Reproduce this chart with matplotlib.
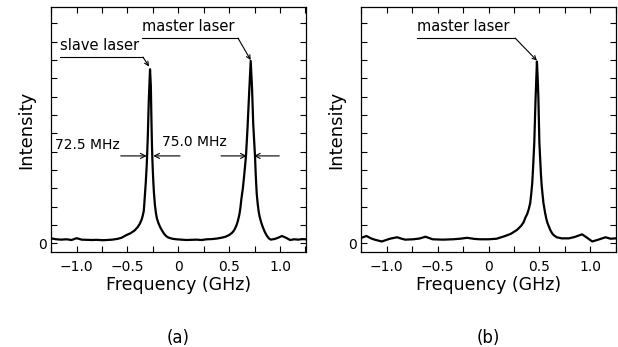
import numpy as np
import matplotlib
matplotlib.use("Agg")
import matplotlib.pyplot as plt
from matplotlib.ticker import MultipleLocator, FixedLocator

# spectrum (a): slave + master laser, frequency in GHz, intensity in tick units
freq_a = [-1.25, -1.2, -1.15, -1.1, -1.05, -1.0, -0.95, -0.9, -0.85, -0.8,
          -0.75, -0.7, -0.65, -0.6, -0.56, -0.51, -0.47, -0.43, -0.40, -0.38,
          -0.36, -0.35, -0.34, -0.335, -0.33, -0.32, -0.31, -0.30, -0.29, -0.278,
          -0.27, -0.265, -0.26, -0.255, -0.25, -0.245, -0.24, -0.23, -0.22, -0.21,
          -0.195, -0.18, -0.16, -0.14, -0.12, -0.10, -0.06, -0.02, 0.03, 0.08,
          0.13, 0.18, 0.23, 0.28, 0.33, 0.38, 0.42, 0.46, 0.50, 0.53,
          0.55, 0.57, 0.585, 0.60, 0.61, 0.62, 0.635, 0.646, 0.658, 0.666,
          0.68, 0.695, 0.712, 0.725, 0.737, 0.746, 0.754, 0.762, 0.771, 0.78,
          0.79, 0.80, 0.815, 0.83, 0.85, 0.87, 0.89, 0.91, 0.95, 0.98,
          1.0, 1.02, 1.06, 1.10, 1.14, 1.18, 1.22, 1.25]
int_a = [0.27, 0.22, 0.20, 0.22, 0.18, 0.28, 0.20, 0.19, 0.18, 0.19,
         0.17, 0.18, 0.20, 0.24, 0.30, 0.45, 0.55, 0.70, 0.88, 1.05,
         1.3, 1.5, 1.75, 2.1, 2.5, 3.3, 4.3, 5.8, 7.8, 9.5,
         8.6, 7.0, 5.6, 4.6, 3.9, 3.3, 2.8, 2.1, 1.65, 1.35,
         1.1, 0.9, 0.7, 0.52, 0.40, 0.32, 0.25, 0.22, 0.20, 0.18,
         0.19, 0.20, 0.18, 0.22, 0.23, 0.26, 0.30, 0.35, 0.45, 0.58,
         0.72, 0.95, 1.2, 1.55, 1.9, 2.4, 3.0, 3.6, 4.3, 4.8,
         6.2, 8.0, 9.95, 8.5, 6.5, 5.6, 4.8, 3.7, 2.73, 2.2,
         1.75, 1.45, 1.15, 0.9, 0.63, 0.42, 0.27, 0.20, 0.24, 0.30,
         0.35, 0.40, 0.30, 0.18, 0.22, 0.20, 0.23, 0.22]

# spectrum (b): master laser only
freq_b = [-1.25, -1.2, -1.16, -1.12, -1.05, -0.97, -0.9, -0.86, -0.82, -0.74,
          -0.68, -0.62, -0.55, -0.45, -0.35, -0.28, -0.21, -0.14, -0.08, 0.0,
          0.08, 0.164, 0.22, 0.28, 0.32, 0.345, 0.36, 0.38, 0.395, 0.41,
          0.42, 0.43, 0.437, 0.45, 0.462, 0.476, 0.485, 0.49, 0.50, 0.508,
          0.515, 0.522, 0.53, 0.54, 0.557, 0.57, 0.58, 0.595, 0.607, 0.625,
          0.64, 0.67, 0.72, 0.79, 0.85, 0.92, 0.97, 1.02, 1.08, 1.15,
          1.2, 1.25]
int_b = [0.30, 0.40, 0.28, 0.20, 0.10, 0.25, 0.33, 0.26, 0.20, 0.22,
         0.26, 0.36, 0.22, 0.20, 0.22, 0.25, 0.30, 0.24, 0.22, 0.22,
         0.25, 0.40, 0.52, 0.73, 0.95, 1.15, 1.37, 1.6, 1.85, 2.2,
         2.7, 3.3, 4.0, 5.5, 7.8, 9.92, 8.8, 8.0, 5.5, 4.6,
         3.8, 3.2, 2.73, 2.2, 1.64, 1.3, 1.1, 0.9, 0.73, 0.55,
         0.45, 0.33, 0.27, 0.27, 0.35, 0.49, 0.30, 0.10, 0.20, 0.33,
         0.25, 0.27]

xticks = [-1.0, -0.5, 0, 0.5, 1.0]
xticklabels = ["\u22121.0", "\u22120.5", "0", "0.5", "1.0"]

plt.rcParams['font.family'] = 'DejaVu Sans'

fig = plt.figure(figsize=(6.18, 3.47), dpi=100)
ax_a = fig.add_axes([0.082, 0.274, 0.413, 0.706])
ax_b = fig.add_axes([0.584, 0.274, 0.413, 0.706])


def style(ax, label):
    ax.set_xlim(-1.255, 1.255)
    ax.set_ylim(-0.47, 12.9)
    ax.xaxis.set_major_locator(FixedLocator(xticks))
    ax.set_xticklabels(xticklabels, fontsize=10)
    ax.xaxis.set_minor_locator(MultipleLocator(0.25))
    ax.yaxis.set_major_locator(FixedLocator([0]))
    ax.set_yticklabels(["0"], fontsize=10)
    ax.yaxis.set_minor_locator(MultipleLocator(1))
    ax.tick_params(which='both', direction='in', top=True, right=True,
                   length=4, width=0.8, pad=3)
    ax.tick_params(axis='x', which='major', pad=6)
    for s in ax.spines.values():
        s.set_linewidth(0.9)
    ax.set_xlabel("Frequency (GHz)", fontsize=12.5, labelpad=1)
    ax.set_ylabel("Intensity", fontsize=13, labelpad=2)
    ax.text(0.5, -0.35, label, transform=ax.transAxes, ha='center',
            va='center', fontsize=12)


def pointer(ax, text, peak, tx, ty, x_end):
    # text sitting on a short underline, then a line down to the peak
    ax.text(tx, ty + 0.25, text, fontsize=10.5, ha='left', va='bottom')
    ax.plot([tx, x_end], [ty, ty], color='black', lw=0.8)
    ax.annotate("", xy=peak, xytext=(x_end, ty),
                arrowprops=dict(arrowstyle='->', lw=0.8, color='black',
                                shrinkA=0, shrinkB=0, mutation_scale=7))


def width_arrow(ax, x0, x1, y):
    ax.annotate("", xy=(x1, y), xytext=(x0, y),
                arrowprops=dict(arrowstyle='->', lw=0.8, color='black',
                                shrinkA=0, shrinkB=0, mutation_scale=9))


ax_a.plot(freq_a, int_a, color='black', lw=1.6)
style(ax_a, "(a)")
ia_s = int(np.argmax(int_a[:50]))
ia_m = 50 + int(np.argmax(int_a[50:]))
pointer(ax_a, "slave laser", (freq_a[ia_s] - 0.01, int_a[ia_s] + 0.15),
        -1.165, 10.16, -0.347)
pointer(ax_a, "master laser", (freq_a[ia_m], int_a[ia_m] + 0.05),
        -0.355, 11.2, 0.587)
ax_a.text(-1.21, 5.35, "72.5 MHz", fontsize=10, ha='left', va='center')
ax_a.text(-0.16, 5.55, "75.0 MHz", fontsize=10, ha='left', va='center')
width_arrow(ax_a, -0.566, -0.311, 4.77)
width_arrow(ax_a, 0.017, -0.246, 4.77)
width_arrow(ax_a, 0.42, 0.673, 4.77)
width_arrow(ax_a, 0.993, 0.744, 4.77)

ax_b.plot(freq_b, int_b, color='black', lw=1.6)
style(ax_b, "(b)")
ib = int(np.argmax(int_b))
pointer(ax_b, "master laser", (freq_b[ib], int_b[ib] + 0.05),
        -0.7, 11.2, 0.262)

fig.savefig("out.png", dpi=100)
